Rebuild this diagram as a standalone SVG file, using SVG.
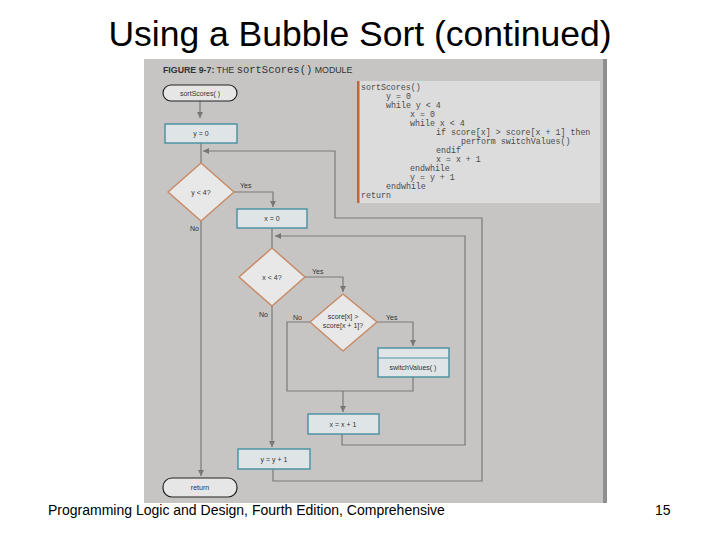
<svg xmlns="http://www.w3.org/2000/svg" width="720" height="540" viewBox="0 0 720 540">
<defs>
<marker id="ah" markerWidth="8" markerHeight="8" refX="7" refY="4" orient="auto" markerUnits="userSpaceOnUse">
<path d="M1,1 L7,4 L1,7 Z" fill="#777"/>
</marker>
</defs>
<style>
.title{font-family:"Liberation Sans",Arial,sans-serif;font-size:35.5px;fill:#000}
.foot{font-family:"Liberation Sans",Arial,sans-serif;font-size:14px;fill:#000}
.lbl{font-family:"Liberation Sans",Arial,sans-serif;font-size:7px;fill:#333}
.code{font-family:"Liberation Mono","Courier New",monospace;font-size:8.3px;fill:#4a4a4a}
.term{fill:#e6e6e6;stroke:#222;stroke-width:1.2}
.proc{fill:#dfe5e7;stroke:#4f93a3;stroke-width:1.5}
.dec{fill:#e8e8e8;stroke:#c98a65;stroke-width:1.5;stroke-linejoin:round}
.ln{fill:none;stroke:#7a7a7a;stroke-width:1.2}
.t{font-family:"Liberation Sans",Arial,sans-serif;font-size:7px;fill:#333;text-anchor:middle}
</style>
<rect width="720" height="540" fill="#fff"/>
<text class="title" x="360" y="46" text-anchor="middle">Using a Bubble Sort (continued)</text>

<g id="panel">
<rect x="144" y="59" width="462" height="444" fill="#c6c5c3"/>
<rect x="603" y="59" width="4" height="444" fill="#8f8f8f"/>
<text x="163" y="73" font-family="'Liberation Sans',Arial,sans-serif" font-size="8.8px" fill="#333"><tspan font-weight="bold">FIGURE 9-7:</tspan> THE <tspan font-family="'Liberation Mono','Courier New',monospace" font-size="10.5px">sortScores()</tspan> MODULE</text>
</g>

<g id="code">
<rect x="357" y="81" width="243" height="122" fill="#dcdcdc"/>
<rect x="357" y="81" width="2.5" height="122" fill="#b8683a"/>
<text class="code" x="361" y="90">sortScores()</text>
<text class="code" x="386" y="99">y = 0</text>
<text class="code" x="386" y="108">while y &lt; 4</text>
<text class="code" x="410" y="117">x = 0</text>
<text class="code" x="410" y="126">while x &lt; 4</text>
<text class="code" x="436" y="135">if score[x] &gt; score[x + 1] then</text>
<text class="code" x="461" y="144">perform switchValues()</text>
<text class="code" x="436" y="153">endif</text>
<text class="code" x="436" y="162">x = x + 1</text>
<text class="code" x="410" y="171">endwhile</text>
<text class="code" x="410" y="180">y = y + 1</text>
<text class="code" x="386" y="189">endwhile</text>
<text class="code" x="361" y="198">return</text>
</g>

<g id="connectors">
<path class="ln" d="M200,100 V118" marker-end="url(#ah)"/>
<path class="ln" d="M201,143 V163"/>
<path class="ln" d="M273,469 V481 H482 V218 H335 V151 H203" marker-end="url(#ah)"/>
<path class="ln" d="M233,192 H273 V207" marker-end="url(#ah)"/>
<path class="ln" d="M201,221 V476" marker-end="url(#ah)"/>
<path class="ln" d="M272,228 V248"/>
<path class="ln" d="M342,434 V445 H465 V236 H275" marker-end="url(#ah)"/>
<path class="ln" d="M305,277 H343 V292" marker-end="url(#ah)"/>
<path class="ln" d="M272,305 V447" marker-end="url(#ah)"/>
<path class="ln" d="M377,322 H413 V346" marker-end="url(#ah)"/>
<path class="ln" d="M413,377 V391 H287 V322 H311"/>
<path class="ln" d="M343,391 V412" marker-end="url(#ah)"/>
<text class="lbl" x="240" y="188">Yes</text>
<text class="lbl" x="190" y="231">No</text>
<text class="lbl" x="312" y="274">Yes</text>
<text class="lbl" x="259" y="317">No</text>
<text class="lbl" x="293" y="320">No</text>
<text class="lbl" x="386" y="320">Yes</text>
</g>

<g id="start">
<rect class="term" x="163" y="85" width="74" height="16" rx="8"/>
<text class="t" x="200" y="95.5">sortScores( )</text>
</g>
<g id="y0">
<rect class="proc" x="165" y="124" width="72" height="19"/>
<text class="t" x="201" y="136">y = 0</text>
</g>
<g id="ylt4">
<path class="dec" d="M201,163 L234,192 L201,221 L168,192 Z"/>
<text class="t" x="201" y="194.5">y &lt; 4?</text>
</g>
<g id="x0">
<rect class="proc" x="237" y="209" width="70" height="19"/>
<text class="t" x="272" y="221">x = 0</text>
</g>
<g id="xlt4">
<path class="dec" d="M272,248 L305,277 L272,306 L239,277 Z"/>
<text class="t" x="272" y="279.5">x &lt; 4?</text>
</g>
<g id="cmp">
<path class="dec" d="M343,294 L377,322 L343,351 L310,322 Z"/>
<text class="t" x="343" y="319">score[x] &gt;</text>
<text class="t" x="343" y="328">score[x + 1]?</text>
</g>
<g id="switch">
<rect class="proc" x="378" y="348" width="71" height="29"/>
<line x1="378" y1="358" x2="449" y2="358" stroke="#4f93a3" stroke-width="1.2"/>
<text class="t" x="413" y="370">switchValues( )</text>
</g>
<g id="xinc">
<rect class="proc" x="308" y="414" width="71" height="20"/>
<text class="t" x="343" y="426.5">x = x + 1</text>
</g>
<g id="yinc">
<rect class="proc" x="238" y="449" width="72" height="20"/>
<text class="t" x="274" y="461.5">y = y + 1</text>
</g>
<g id="return">
<rect class="term" x="163" y="478" width="74" height="19" rx="9"/>
<text class="t" x="200" y="490">return</text>
</g>

<text class="foot" x="48" y="515">Programming Logic and Design, Fourth Edition, Comprehensive</text>
<text class="foot" x="655" y="515">15</text>
</svg>
